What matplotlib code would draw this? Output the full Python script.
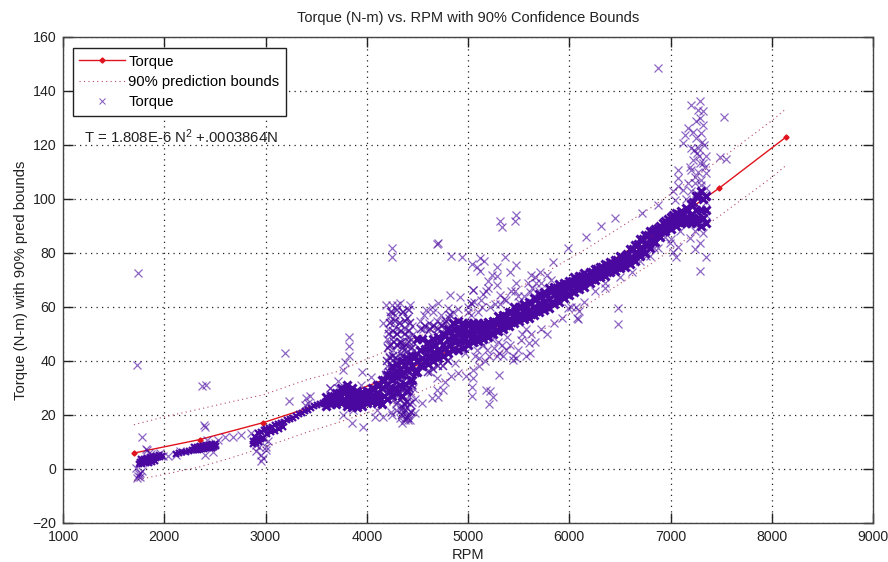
import matplotlib
matplotlib.use("Agg")
import matplotlib.pyplot as plt

plt.rcParams['font.family'] = ['Liberation Sans', 'DejaVu Sans']
plt.rcParams['mathtext.default'] = 'regular'

title = 'Torque (N-m) vs. RPM with 90% Confidence Bounds'
xlabel = 'RPM'
ylabel = 'Torque (N-m) with 90% pred bounds'
equation = 'T = 1.808E-6 N$^{2}$ +.0003864N'
x_ticks = [1000, 2000, 3000, 4000, 5000, 6000, 7000, 8000, 9000]
y_ticks = [-20, 0, 20, 40, 60, 80, 100, 120, 140, 160]

fit_rpm = [1700, 2350, 2980, 3600, 4240, 4860, 5500, 6180, 6800, 7480, 8140]
fit_torque = [5.9, 10.9, 17.2, 24.8, 34.1, 44.6, 56.8, 71.4, 86.2, 104, 122.9]
bound_rpm = [1700, 2000, 2350, 2650, 2980, 3400, 3700, 4240, 4860, 5500, 6180, 6800, 7480, 8000, 8140]
bound_upper = [16.4, 19.3, 22.2, 24.8, 27.5, 33, 36, 44.4, 55, 67, 81.8, 96.6, 114.4, 129, 133.4]
bound_lower = [-4.2, -2, 0.8, 4, 8, 13.5, 17, 23.8, 34.2, 46.5, 61, 75.8, 93.6, 108, 112.4]

# dense band: RPM with mid / upper / lower torque readings
band_rpm = [3600,3650,3700,3750,3800,3850,3900,3950,4000,4050,4100,4150,4200,4250,4300,4350,4400,4450,
            4500,4550,4600,4650,4700,4750,4800,4850,4900,4950,5000,5050,5100,5150,5200,5250,5300,5350,
            5400,5450,5500,5550,5600,5650,5700,5750,5800,5850,5900,5950,6000,6050,6100,6150,6200,6250,
            6300,6350,6400,6450,6500,6550,6600,6650,6700,6750,6800,6850,6900,6950,7000,7050,7100,7150,
            7200,7250,7300,7350]
band_mid = [25,25.5,26,27,27,26.5,26,26,27,27.5,28,30,31.5,33,34,35,36.5,38,
            40,41,42,43,44,46,48,49,50,50,50,50.5,51,51,51.5,52.5,54,54.5,
            55.5,57,57.5,58.5,59,60,61,62,63,64.5,65,66,67,68,69,70,71,72,
            73,74,74.5,75.5,76.5,77,78,80,82,83.5,85,86.5,88,90,91,92.5,93,93.5,
            94,96,96,96]
band_hi = [26.5,27,28,30,31,30,29,28.5,29,30,31,33,35,38,39,40,41,42,
           48,48,47,48,49,50,52,54,55,54,54,54,54,54,54.5,55,56.5,57,
           58,60,60,61,62,63.5,65,65.5,67,67.5,68.5,69,69.5,71,71.5,72.5,73,74,
           75,76,76.5,77.5,79,79,81.5,83,85,86.5,88,89,90,92,93.5,95,95.5,96.5,
           98,101,103,101]
band_lo = [23.5,24,24,24.5,23.5,23,23,23.5,24.5,25,24.5,24,26,27,28,27,29,33,
           36,38,39,40,41,42,43,44,44,45,46,47,47.5,48,49,50,51,52,
           53,54,55,55.5,56,57,58,59,59.5,61,62,63.5,64.5,65.5,66.5,67.5,69,70,
           71,71.5,73,73.5,74.5,75,76,77,79,80,82,84,86,88,89,90,91,91,
           91,91,90,91]

fill_rpm = [3625,3675,3725,3775,3825,3875,3925,3975,4025,4075,4125,4175,4225,4275,4325,4375,4425,4475,
            4525,4575,4625,4675,4725,4775,4825,4875,4925,4975,5025,5075,5125,5175,5225,5275,5325,5375,
            5425,5475,5525,5575,5625,5675,5725,5775,5825,5875,5925,5975,6025,6075,6125,6175,6225,6275,
            6325,6375,6425,6475,6525,6575,6625,6675,6725,6775,6825,6875,6925,6975,7025,7075,7125,7175,
            7225,7275,7325]
fill_hi = [26,27,28,29,29,28,27.5,27.5,28.5,29.5,31,33,35,36,37,38.5,40,42,
           44,44.5,45,46,47.5,49.5,51,52,52,52,52.3,52.5,52.5,52.8,53.5,54.5,55.5,56.5,
           58,59,60,60.5,61.5,63,64,65,66,67,67.5,68.5,69.5,70.5,71.5,72,73,74,
           75,75.5,76.3,77.5,78.2,79.5,81.5,83.5,85,86.5,88,89.3,91,92.5,94,94.5,95,96,
           99,101,100]
fill_lo = [24.7,25,25.5,25.5,25,24.8,24.7,25.2,26,26.3,26.5,27,29,30,31,31.5,33,36,
           38.5,40,41,42,43.5,45,46,47,47.5,48,48.5,49,49.5,49.8,50.5,51.5,52.5,53.5,
           54.5,55.5,56.5,57,57.5,58.5,59.5,60.5,62,63,64,65,66,67,68,69.5,70.5,71.5,
           72.5,73,74,74.8,75.5,76.5,78,79.5,81.5,83,84.5,86.5,88,89.5,91,91.5,92,92.3,
           93,93,93]

low_rpm = [1760,1780,1800,1820,1840,1860,1880,1900,1920,1940,1960,1980,
           1770,1800,1830,1860,1890,1920,1950,1755,1785,1815,1845,1875,1905,
           2120,2150,2180,2210,2240,2270,2290,2310,2330,2350,2370,2390,2410,2430,2450,2470,2490,2510,
           2290,2320,2350,2380,2410,2440,2470,2500,
           2880,2900,2920,2940,2960,2980,2900,2930,2960,2990,2880,2910,2940,
           3000,3030,3060,3090,3120,3150,3180,3210,3240,3270,3300,3330,3360,3390,3420,3450,3480,3510,3540,3570,
           3010,3050,3090,3130,3170]
low_torque = [2.6,2.8,3,3.1,3.3,3.5,3.7,3.9,4.1,4.4,4.6,5,
              3.6,3.8,4,4.3,4.6,4.9,5.2,1.8,2,2.2,2.4,2.7,3,
              5.7,6,6.2,6.4,6.6,6.9,7,7.1,7.2,7.3,7.4,7.5,7.6,7.7,7.8,7.9,8.1,8.4,
              8.2,8.3,8.5,8.6,8.8,9,9.1,9.2,
              10.3,10.5,10.7,11,11.2,11.5,12,13.2,13.8,14.3,9.4,9.6,9.9,
              14.8,15.3,15.7,16.2,16.6,17,17.4,18,18.4,18.9,19.5,20.2,20.8,21.4,22,22.6,23.2,23.6,24.1,24.6,
              13,13.6,14.2,14.8,15.5]

# scattered readings, grouped by area of the chart
left_rpm = [1730,1740,1780,1741,1757,1731,1784,1725,1830,1850,1815,1870,1988,1960,1755,1765,
            2040,2120,2160,2372,2412,2392,2405,2399,2420,2531,2597,2679,2761,2860,2480,2500,
            2909,2909,3008,2958,2958,3024,2975,3000,2935,2985,3190,3231,3403,3436,3386,3420,3633,3715,3715]
left_torque = [38.6,72.5,12,-2.7,-1.5,-3.4,-0.9,0.4,6.9,6,7.4,5.6,4.7,6,-1.8,-3,
               5,5.2,6.8,30.8,31.2,16.4,15.6,5.3,10.9,10.9,11.7,12,12.7,13.3,6.2,9.8,
               6.5,9,7.1,5.3,2.8,10.2,4,8,8,11,43,25.3,26.3,26.9,23.8,24.5,30,32.5,30]

mid_rpm = [3636,3761,3768,3784,3824,3824,3824,3850,3866,3949,3965,4080,4162,4162,4195,4228,4245,4250,4251,4251,
           4261,4300,4327,4343,4376,4426,4426,4442,4475,4541,4210,4240,4280,4320,4360,4400,4220,4260,4300,4340,
           4380,4420,4215,4255,4295,4335,4375,4415,4455,4200,4230,4270,4310,4350,4390,4430,4470,4260,4300,4340,
           4380,4420,4460,4240,4290,4330,4370,4410,4190,4240,4290,4340,4390,4440,4200,4250,4300,4350,4400,4450,
           4590,4640,4705,4804,4903,4530,4570,4610,4650,4690,4730,4770,4810,4850,4560,4600,4640,4680,4720,4760,
           4640,4689,4689,4705,4755,4771,4788,4837,4870,4903,4985,4968,5001,5034,5051,5051,5044,5044,5051,4620,
           4350,4380,4410,4440,4300,4330,4360,4390,4420,4450,4480,4340,4370,4400,4430,4460,4040,4100,3940,3890]
mid_torque = [30,20,36.7,39.8,48.8,45.6,41.9,17,21.9,36,15.7,19.4,19.4,54,60.8,56.5,20,60.8,81.8,78.5,
              25.6,60.8,61.4,23,18.2,18.2,60.8,25,20.7,24.4,52,55,57,54,58,56,46,49,52,47,
              52,49,42,44,46,43,45,42,50,38,35,41,38,36,40,37,44,30,25,22,
              24,27,30,34,22,19,21,20,34,21,24,30,31,28,48,58,50,46,56,53,
              59,60,61.4,59.6,59.2,55,57,54,58,55,57,54,56,58,52,51,53,50,54,52,
              26.2,29.3,33.6,26.8,29.3,32.4,40.4,34.3,39.2,35.5,34.3,42.9,60,61.4,66.4,33.6,30.5,27.2,36.7,36,
              17,19,18,21,29,26,23,25,30,31,26,47,44,49,45,47,34,22,31,24]

# darkest part of the blob around 4200-4500 RPM
blob_rpm = [4180,4210,4240,4270,4300,4330,4360,4390,4420,4450,4190,4220,4250,4280,4310,4340,4370,4400,4430,4460,
            4200,4230,4260,4290,4320,4350,4380,4410,4440,4470,4210,4240,4270,4300,4330,4360,4390,4420,4450,
            4220,4260,4300,4340,4380,4420,4230,4280,4330,4380,4430,4240,4300,4360,4420,4350,4380,4410,4440,4370,4400,4430,
            4540,4580,4620,4660,4700,4740,4780,4820,4600,4650,4700,4750,4800]
blob_torque = [30,31,30,29,30,31,29,31,30,31,35,36,37,35,36,34,36,35,36,38,
               40,41,42,41,40,42,41,40,42,41,45,46,47,46,47,45,46,47,45,
               50,51,50,51,50,51,54,55,54,55,54,58,59,58,59,20,22,19,21,24,25,24,
               52,53,52,53,52,53,55,57,36,37,38,38,40]

up_rpm = [4690,4699,4820,4830,4919,4945,5034,5040,5051,5123,5123,5133,5199,5290,5290,5314,5363,5380,5413,5472,
          5478,5495,5610,5676,5709,5840,5988,6170,5315,5340,5470,5465,5160,5090,5240,5200,5150,5290,5320,5360,
          5100,5060,5000,5030,5140,5180,5220,5270,5420,5550,5590,5630,5660,5720,5780,5820,5700,5620,5500,5460]
up_torque = [83.4,83.7,64.3,79,63.6,78.7,61.4,75.9,66.4,78,73.5,62.7,69.5,75,71.3,64.5,78.7,62.7,72.8,68.8,
             75.6,64.1,65.7,68.8,72.8,76.5,81.8,86,92,89.8,94,92,77,75,72,67,65,68,61,63,
             58,62,58,57,60,66,60,61,66,64,69,67,71,69,72,70,66,72,62,66]

under_rpm = [5304,5182,5248,5205,5610,5603,5528,5445,5380,5297,5577,6087,6070,5988,6100,6074,6480,6480,5215,5110,
             5150,5190,5240,5290,5340,5390,5440,5490,5530,5570,5620,5660,5720,5780,5850,5930,6020,6150,6250,6350,
             5090,5130,5170,5210,5260,5310,5350,5410,5470,5070,5110]
under_torque = [34.9,29.3,26.8,24,43.1,46.6,47.8,40.4,44.1,47.2,52,55.5,60,59.6,58.6,56,59.6,53.8,29,41,
                46,44,48,42,46,49,42,44,50,42,50,47,52,50,54,56,60,62,66,67,
                44,47,40,42,45,43,42,46,41,42,38]

top_rpm = [6874,7525,7486,7545,7288,7206,7272,7321,7255,7173,7321,7140,7255,7304,7124,7206,7272,7354,7222,7288,
           7320,7206,7272,7354,7074,7074,7074,7239,7304,7354,7124,7025,7041,7255,7321,6877,6722,6456,6317,7354,
           7288,7321,7239,7189,7288,7239,7354,7288,7074,6992,7058,7025,7091,7000,6950,6880,6800,7230,7280,7330,
           7190,7240,7300,7340,7200,7260,7310,7150,7170,7220,7290,7350,6350,6500,6620,6700,6760,6840]
top_torque = [148.6,130.4,115.7,115,136.2,134.9,133,132.5,128.8,126.3,127.5,123.8,122.6,124.4,120.7,118.9,118.9,115.8,114.5,113.3,
              113.3,110.8,110,109.6,110.8,107.8,104.9,105.9,105.3,104,103.4,102.8,99.7,102.2,101.6,97.9,95,93,90,94,
              91,87.4,88,85.5,83.7,81.4,78.7,73.5,82.4,83.7,78.7,80.5,88,85,86,82,79,118,116,120,
              112,108,107,112,103,117,121,100,106,125,130,99,69,71,73,77,79,82]

INDIGO = '#4a08a0'
RED = '#e0141e'

fig = plt.figure(figsize=(8.88, 5.62), dpi=100)
ax = fig.add_axes([63/888, 39/562, 810/888, 486/562])

fit_line, = ax.plot(fit_rpm, fit_torque, '-', color=RED, lw=1, marker='D', ms=2.6, zorder=2)
upper_line, = ax.plot(bound_rpm, bound_upper, color='#b84a68', lw=0.8, ls=(0, (1, 3)), zorder=2)
ax.plot(bound_rpm, bound_lower, color='#b84a68', lw=0.8, ls=(0, (1, 3)), zorder=2)

for xs, ys in ((left_rpm, left_torque), (mid_rpm, mid_torque), (up_rpm, up_torque),
               (under_rpm, under_torque), (top_rpm, top_torque)):
    ax.plot(xs, ys, 'x', color=INDIGO, alpha=0.62, ms=5.2, mew=0.9, zorder=3)

ax.plot(blob_rpm, blob_torque, 'x', color=INDIGO, alpha=0.85, ms=5.2, mew=1.1, zorder=4)
for ys in (band_mid, band_hi, band_lo):
    ax.plot(band_rpm, ys, 'x', color=INDIGO, ms=6, mew=2.2, zorder=4)
for ys in (fill_hi, fill_lo):
    ax.plot(fill_rpm, ys, 'x', color=INDIGO, ms=6, mew=2.2, zorder=4)
ax.plot(low_rpm, low_torque, 'x', color=INDIGO, ms=5, mew=1.6, zorder=4)

ax.set_xlim(1000, 9000)
ax.set_ylim(-20, 160)
ax.set_xticks(x_ticks)
ax.set_yticks(y_ticks)
ax.tick_params(direction='in', length=7, width=1, colors='#222222', labelsize=10.2, pad=5,
               top=True, right=True)
ax.grid(True, linestyle=(0, (1, 3.4)), color='#222222', lw=0.9)
ax.set_axisbelow(True)
for s in ax.spines.values():
    s.set_color('#444444')
    s.set_linewidth(1)

ax.set_title(title, fontsize=10.5, pad=11, color='#222222')
ax.set_xlabel(xlabel, fontsize=10.5, labelpad=3, color='#222222')
ax.set_ylabel(ylabel, fontsize=10.7, labelpad=3, color='#222222')

marker_handle = plt.Line2D([], [], color=INDIGO, marker='x', ls='none', ms=4, mew=0.7, alpha=0.7)
leg = ax.legend([fit_line, upper_line, marker_handle],
                ['Torque', '90% prediction bounds', 'Torque'],
                loc='upper left', bbox_to_anchor=(9.5/810, 1-11/486), borderaxespad=0,
                fontsize=10.6, fancybox=False, framealpha=1, edgecolor='#222222',
                labelspacing=0.42, handlelength=3.1, handletextpad=0.25, borderpad=0.45)
leg.get_frame().set_linewidth(1)
leg.set_zorder(6)

ax.text(21/810, 1-100/486, equation, transform=ax.transAxes, fontsize=10.7, va='center', color='#222222', zorder=5)

fig.savefig('out.png', dpi=100)
